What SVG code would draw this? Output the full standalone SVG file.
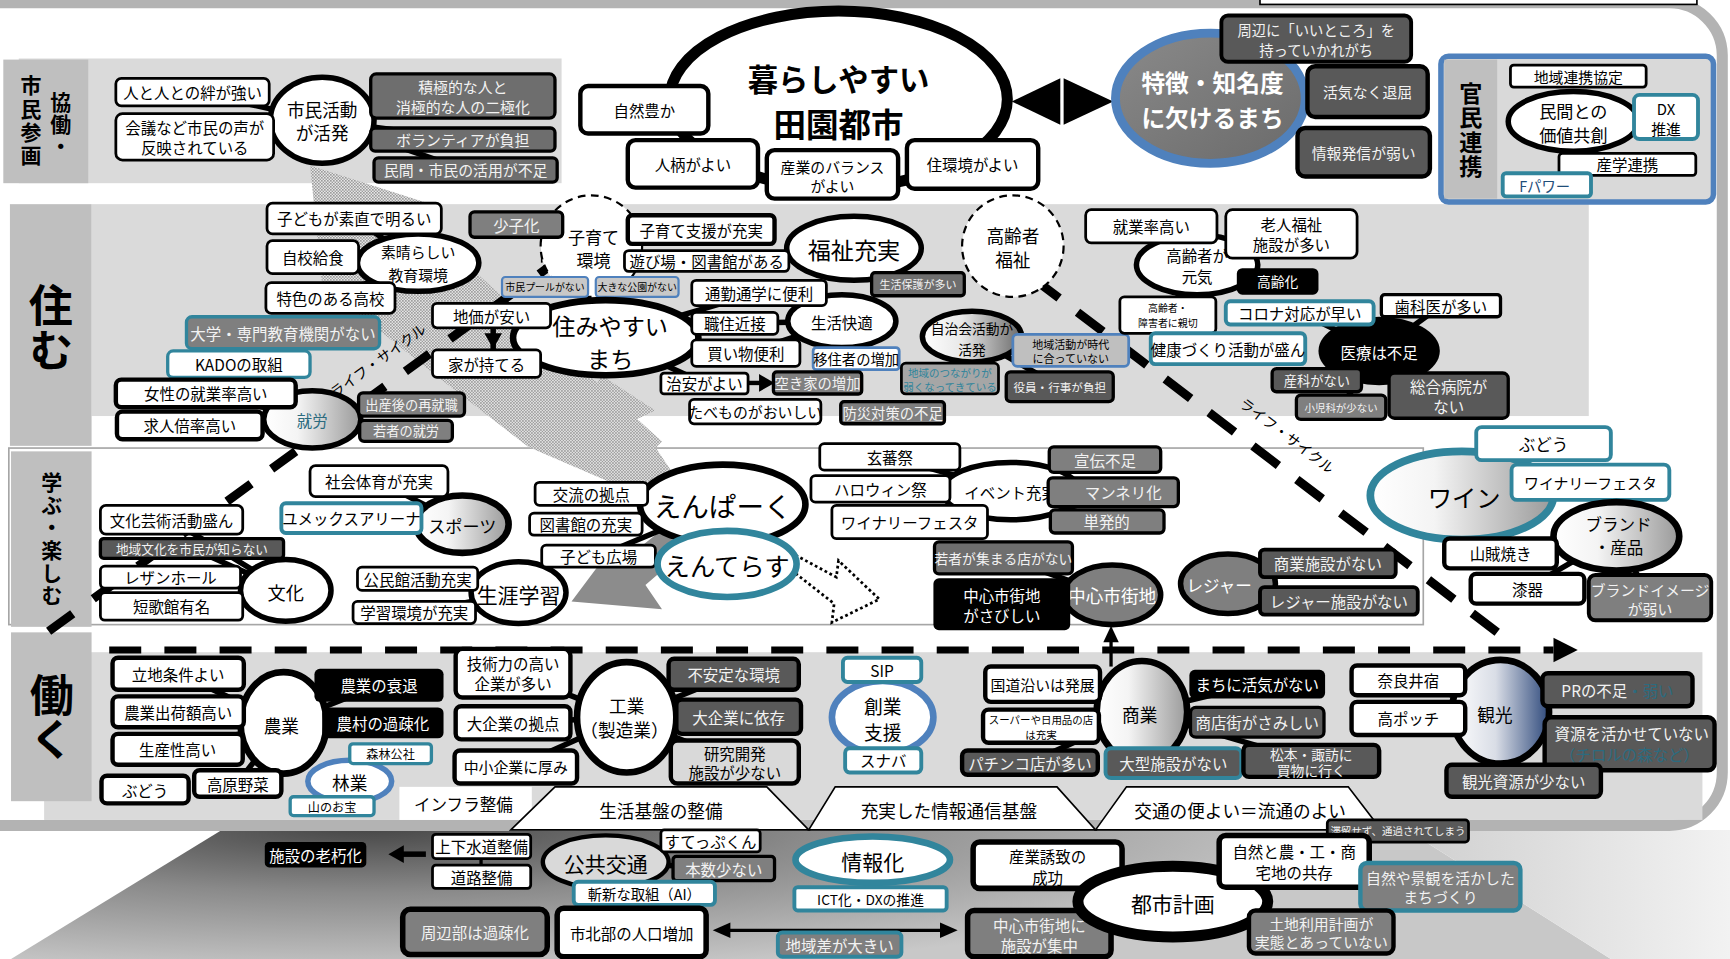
<svg xmlns="http://www.w3.org/2000/svg" width="1730" height="959" viewBox="0 0 1730 959">
<defs>
<style>
text{font-family:"Noto Sans CJK JP","Noto Sans",sans-serif;text-anchor:middle;dominant-baseline:central;fill:#000}
.v{writing-mode:vertical-rl;font-weight:bold}
.w{fill:#fff;stroke:#000;stroke-width:2.5}
.w4{fill:#fff;stroke:#000;stroke-width:4}
.g5{fill:#595959;stroke:#000;stroke-width:3}
.g6{fill:#6e6e6e;stroke:#000;stroke-width:3}
.g7{fill:#7f7f7f;stroke:#000;stroke-width:3}
.bk{fill:#000}
.tl{fill:#fff;stroke:#31859c;stroke-width:3.5}
.tg{fill:#7f7f7f;stroke:#31859c;stroke-width:3.5}
.e{fill:#fff;stroke:#000;stroke-width:5}
.wt{fill:#f2f2f2}
.b{font-weight:bold}
.cn{stroke:#000;stroke-width:5;fill:none}
.lc{stroke:#000;stroke-width:8;fill:none}
</style>
<linearGradient id="gw" x1="0" y1="0" x2="1" y2="0"><stop offset="0" stop-color="#fff"/><stop offset="0.35" stop-color="#f4f4f4"/><stop offset="1" stop-color="#9a9a9a"/></linearGradient>
<linearGradient id="gd" x1="0" y1="0" x2="1" y2="0"><stop offset="0" stop-color="#fff"/><stop offset="0.4" stop-color="#e8e8e8"/><stop offset="1" stop-color="#6a6a6a"/></linearGradient>
<linearGradient id="gn" x1="0" y1="0" x2="1" y2="0"><stop offset="0" stop-color="#fff"/><stop offset="0.45" stop-color="#d9dde6"/><stop offset="1" stop-color="#2f4a7c"/></linearGradient>
<linearGradient id="gt" x1="0" y1="0" x2="1" y2="1"><stop offset="0" stop-color="#8a8a8a"/><stop offset="1" stop-color="#6a6a6a"/></linearGradient>
<radialGradient id="gb" gradientUnits="userSpaceOnUse" cx="330" cy="748" r="900" gradientTransform="translate(330 748) scale(1 0.15) translate(-330 -748)"><stop offset="0" stop-color="#444"/><stop offset="0.45" stop-color="#8a8a8a"/><stop offset="1" stop-color="#c8c8c8"/></radialGradient>
<linearGradient id="gr" x1="0" y1="0" x2="1" y2="0"><stop offset="0" stop-color="#cfcfcf"/><stop offset="1" stop-color="#f2f2f2"/></linearGradient>
<pattern id="hatch" width="2.72" height="2.72" patternUnits="userSpaceOnUse"><rect width="2.72" height="2.72" fill="#e6e6e6"/><rect width="1.36" height="1.36" fill="#9c9c9c"/><rect x="1.36" y="1.36" width="1.36" height="1.36" fill="#9c9c9c"/></pattern>
</defs>
<rect width="1730" height="959" fill="#fff"/>
<g transform="scale(1.10332 1.10357)" font-size="14">
<!-- background -->
<g id="background">
<polygon points="201,752 1275,752 1460,869 10,869" fill="url(#gb)"/>
<polygon points="1275,752 1568,752 1568,869 1460,869" fill="url(#gr)"/>
<path d="M -10,2.5 H 1512 A 48 48 0 0 1 1561,50 V 700 A 48 48 0 0 1 1513,748 H -10" fill="none" stroke="#b3b3b3" stroke-width="10"/>
<rect x="1142" y="-6" width="396" height="10" fill="#fff" stroke="#000" stroke-width="1.5"/>
<rect x="17" y="53" width="492" height="113" fill="#dadada"/>
<rect x="3" y="54" width="77" height="112" fill="#bfbfbf"/>
<rect x="83" y="185" width="1357" height="192" fill="#dadada"/>
<rect x="9" y="185" width="74" height="219" fill="#bfbfbf"/>
<rect x="8" y="406" width="1282" height="160" fill="#fff" stroke="#a6a6a6" stroke-width="1.5"/>
<rect x="10" y="409" width="73" height="159" fill="#bfbfbf"/>
<rect x="40" y="591" width="1503" height="152" fill="#dadada"/>
<rect x="10" y="573" width="73" height="153" fill="#bfbfbf"/>
<text x="28" y="110" class="v" font-size="19" letter-spacing="2">市民参画</text>
<text x="55" y="113" class="v" font-size="19" letter-spacing="1">協働・</text>
<text x="46" y="297" class="v" font-size="40">住む</text>
<text x="47" y="489" class="v" font-size="19" letter-spacing="1.5">学ぶ・楽しむ</text>
<text x="47" y="650" class="v" font-size="40">働く</text>
<!-- banner -->
<rect x="362" y="713" width="120" height="30" fill="#fff"/>
<polygon points="463,752 503,713 695,713 733,752" fill="#fff" stroke="#000" stroke-width="1.5"/>
<polygon points="733,752 757,713 958,713 993,752" fill="#fff" stroke="#000" stroke-width="1.5"/>
<polygon points="993,752 1021,713 1222,713 1252,752" fill="#fff" stroke="#000" stroke-width="1.5"/>
<text x="420" y="729" font-size="15">インフラ整備</text>
<text x="599" y="734" font-size="16">生活基盤の整備</text>
<text x="860" y="734" font-size="16">充実した情報通信基盤</text>
<text x="1124" y="734" font-size="16">交通の便よい＝流通のよい</text>
<!-- hatched arrows -->
<polygon points="281,150 400,188 385,205 600,400 560,440 479,405 396,341 292,258" fill="url(#hatch)"/>
<polygon points="545,340 594,372 577,380 612,432 560,442 520,405 528,372" fill="url(#hatch)"/>
<polygon points="518,545 548,505 560,512 600,480 620,500 585,530 600,552" fill="#8c8c8c"/>
<polygon points="721,503 758,523 760,508 797,543 754,564 756,547 719,518" fill="#fff" stroke="#000" stroke-width="2.5" stroke-dasharray="2.5 2.5"/>
</g>
<!-- connectors -->
<g id="connectors">
<path class="lc" d="M 500 240 L 40 575" style="stroke-dasharray:27 23;stroke-dashoffset:13"/>
<path class="lc" d="M 944 258 L 1357 573" style="stroke-dasharray:29 21;stroke-dashoffset:9"/>
<path d="M491,215 V238" stroke="#000" stroke-width="1.5"/>
<path d="M 99 589 H 1408" stroke="#000" stroke-width="6.5" stroke-dasharray="29 21" fill="none"/>
<polygon points="1408,578 1430,589 1408,600" fill="#000"/>
<text x="342" y="326" font-size="13" transform="rotate(-36 342 326)">ライフ・サイクル</text>
<text x="1167" y="394" font-size="13" transform="rotate(37 1167 394)">ライフ・サイクル</text>
<polygon points="917,92 961,71 961,113" fill="#000"/>
<polygon points="964,71 964,113 1009,92" fill="#000"/>
<path class="cn" d="M292,109 L174,83 M292,109 L176,124 M292,109 L419,87 M292,109 L419,126 M292,109 L422,154"/>
<path class="cn" d="M760,90 L584,99 M760,90 L628,148 M760,90 L754,158 M760,90 L881,149 M687,152 H696 M813,152 H823"/>
<path class="cn" d="M1097,89 L1193,35 M1097,89 L1239,83 M1097,89 L1236,138"/>
<path class="cn" d="M1426,110 L1430,69 M1426,110 L1510,106 M1426,110 L1475,149 M1426,110 L1400,168"/>
<path class="cn" d="M379,238 L321,198 M379,238 L283,233 M379,238 L299,270"/>
<path class="cn" d="M283,380 L186,356 M283,380 L172,385 M283,380 L373,366 M283,380 L368,390"/>
<path class="cn" d="M536,223 L468,203 M536,223 L635,208 M536,223 L640,236 M536,223 L494,260 M536,223 L577,260" style="stroke-width:3"/>
<path class="cn" d="M774,225 L640,236 M774,225 L832,257"/>
<path class="cn" d="M549,306 L445,286 M549,306 L441,329 M549,306 L666,293 M549,306 L676,320 M549,306 L688,265 M549,306 L638,347 M447,297 V 318"/>
<path class="cn" d="M763,291 L688,265 M763,291 L666,293 M763,291 L676,320 M763,291 L776,325"/>
<path class="cn" d="M881,305 L970,317 M881,305 L861,343 M881,305 L960,350"/>
<path class="cn" d="M1085,240 L1043,205 M1085,240 L1170,212 M1085,240 L1158,255 M1085,240 L1058,285"/>
<path class="cn" d="M1250,318 L1306,277 M1250,318 L1193,344 M1250,318 L1215,369 M1250,318 L1313,358 M1250,318 L1178,283"/>
<path class="cn" d="M419,475 L343,436 M419,475 L318,469"/>
<path class="cn" d="M259,535 L155,471 M259,535 L174,497 M259,535 L154,523 M259,535 L155,549"/>
<path class="cn" d="M470,537 L378,524 M470,537 L375,555"/>
<path class="cn" d="M655,457 L536,447 M655,457 L531,475 M655,457 L542,504"/>
<path class="cn" d="M916,445 L806,414 M916,445 L798,443 M916,445 L824,473 M916,445 L1001,416 M916,445 L1018,446 M916,445 L1003,472"/>
<path class="cn" d="M1008,540 L908,547 M1008,540 L909,505"/>
<path class="cn" d="M1113,529 L1203,510 M1113,529 L1213,544"/>
<path class="cn" d="M1325,449 L1399,402 M1325,449 L1441,437"/>
<path class="cn" d="M1465,486 L1360,501 M1465,486 L1384,533 M1465,486 L1495,541"/>
<path class="cn" d="M257,655 L161,610 M257,655 L161,645 M257,655 L161,679 M257,655 L343,621 M257,655 L347,655 M257,655 L215,710"/>
<path class="cn" d="M317,708 L354,683 M317,708 L301,730"/>
<path class="cn" d="M568,650 L465,610 M568,650 L465,655 M568,650 L467,695 M568,650 L665,611 M568,650 L669,649 M568,650 L666,690"/>
<path class="cn" d="M800,650 L800,607 M800,650 L800,689"/>
<path class="cn" d="M1035,645 L945,620 M1035,645 L943,658 M1035,645 L1139,620 M1035,645 L1139,654 M1035,645 L933,691 M1035,645 L1063,691 M1035,645 L1188,690"/>
<path class="cn" d="M1360,645 L1276,616 M1360,645 L1276,651 M1360,645 L1466,625 M1360,645 L1479,674 M1360,645 L1381,707"/>
<path d="M1007,604 V 580" stroke="#000" stroke-width="3" fill="none"/>
<polygon points="1000,582 1007,567 1014,582" fill="#000"/>
<path d="M690,347 H678" stroke="#000" stroke-width="4"/>
<polygon points="688,339 702,347 688,355" fill="#000"/>
<polygon points="439,302 455,302 447,316" fill="#000"/>
<path class="cn" d="M549,781 L644,762 M549,781 L656,787 M549,781 L584,809"/>
<path class="cn" d="M791,779 L789,814"/>
<path class="cn" d="M1063,817 L949,784 M1063,817 L942,846 M1063,817 L1173,780 M1063,817 L1197,845"/>
<path d="M436,767 V 794" stroke="#000" stroke-width="3"/>
<path d="M386,774 H362" stroke="#000" stroke-width="5"/>
<polygon points="352,774 366,766 366,782" fill="#000"/>
<path d="M660,843 H855" stroke="#000" stroke-width="3"/>
<polygon points="646,843 662,836 662,850" fill="#000"/>
<polygon points="868,843 852,836 852,850" fill="#000"/>
</g>
<!-- 協働 row -->
<g id="n_shimin"><ellipse cx="292" cy="109" rx="47" ry="39" class="e"/><text x="292" y="99" font-size="16">市民活動<tspan x="292" y="120">が活発</tspan></text></g>
<g id="n_kizuna"><rect x="105" y="71" width="139" height="25" rx="5" class="w"/><text x="174.5" y="83.5">人と人との絆が強い</text></g>
<g id="n_kaigi"><rect x="105" y="103" width="143" height="42" rx="6" class="w"/><text x="176.5" y="115">会議など市民の声が<tspan x="176.5" y="133">反映されている</tspan></text></g>
<g id="n_sekkyoku"><rect x="336" y="67" width="167" height="40" rx="5" class="g6"/><text x="419.5" y="78.5" class="wt" font-size="13.5">積極的な人と<tspan x="419.5" y="96">消極的な人の二極化</tspan></text></g>
<g id="n_volunteer"><rect x="336" y="116" width="167" height="21" rx="4" class="g6"/><text x="419.5" y="126.5" class="wt" font-size="13.5">ボランティアが負担</text></g>
<g id="n_minkan"><rect x="339" y="143" width="166" height="22" rx="4" class="g6"/><text x="422" y="154" class="wt" font-size="13.5">民間・市民の活用が不足</text></g>
<!-- top -->
<g id="n_kurashi"><ellipse cx="760" cy="90" rx="153" ry="80" fill="#fff" stroke="#000" stroke-width="10"/><text x="760" y="70.5" font-size="27.5" class="b">暮らしやすい<tspan x="760" y="111" font-size="29.5">田園都市</tspan></text></g>
<g id="n_shizen"><rect x="526" y="78" width="116" height="43" rx="7" class="w4"/><text x="584" y="99.5">自然豊か</text></g>
<g id="n_hitogara"><rect x="569" y="127" width="118" height="43" rx="7" class="w4"/><text x="628" y="148.5">人柄がよい</text></g>
<g id="n_sangyo"><rect x="695" y="136" width="119" height="44" rx="7" class="w4"/><text x="754.5" y="151" font-size="13.5">産業のバランス<tspan x="754.5" y="168">がよい</tspan></text></g>
<g id="n_jukankyo"><rect x="822" y="127" width="119" height="44" rx="7" class="w4"/><text x="881.5" y="149">住環境がよい</text></g>
<g id="n_tokucho"><ellipse cx="1097" cy="89" rx="86" ry="59" fill="url(#gt)" stroke="#4f81bd" stroke-width="8"/><text x="1099" y="73.5" font-size="21.5" class="b" style="fill:#fff">特徴・知名度<tspan x="1099" y="105">に欠けるまち</tspan></text></g>
<g id="n_shuhen"><rect x="1107" y="14" width="172" height="42" rx="6" class="g5" style="stroke-width:3.5"/><text x="1193" y="27" class="wt" font-size="13">周辺に「いいところ」を<tspan x="1193" y="44">持っていかれがち</tspan></text></g>
<g id="n_kakki"><rect x="1185" y="60" width="109" height="46" rx="7" class="g5" style="stroke-width:4"/><text x="1239.5" y="83" class="wt" font-size="13.5">活気なく退屈</text></g>
<g id="n_johohasshin"><rect x="1176" y="116" width="120" height="44" rx="7" class="g5" style="stroke-width:4"/><text x="1236" y="138" class="wt" font-size="13.5">情報発信が弱い</text></g>
<!-- 官民連携 -->
<g id="n_kanmin"><rect x="1306" y="51" width="247" height="132" rx="7" fill="#d9d9d9" stroke="#4f81bd" stroke-width="5"/><rect x="1309" y="54" width="48" height="126" fill="#bfbfbf"/>
<text x="1333" y="118" class="v" font-size="21" letter-spacing="1">官民連携</text></g>
<g id="n_chiikirenkei"><rect x="1369" y="59" width="123" height="20" rx="3" class="w"/><text x="1430.5" y="69" font-size="13.5">地域連携協定</text></g>
<g id="n_minkanto"><ellipse cx="1426" cy="110" rx="59" ry="27" class="e"/><text x="1426" y="100" font-size="15.5">民間との<tspan x="1426" y="121">価値共創</tspan></text></g>
<g id="n_dx"><rect x="1481" y="86" width="58" height="40" rx="5" class="tl"/><text x="1510" y="98" font-size="13.5">DX<tspan x="1510" y="116">推進</tspan></text></g>
<g id="n_sangaku"><rect x="1413" y="139" width="124" height="20" rx="3" class="w"/><text x="1475" y="149">産学連携</text></g>
<g id="n_fpower"><rect x="1362" y="157" width="80" height="21" rx="3" class="tl"/><text x="1400" y="168" font-size="13" style="fill:#1f4e79">Fパワー</text></g>
<!-- 住む row -->
<g id="n_subarashii"><ellipse cx="379" cy="238" rx="55" ry="26" class="e"/><text x="379" y="228" font-size="13.5">素晴らしい<tspan x="379" y="248">教育環境</tspan></text></g>
<g id="n_kodomo"><rect x="242" y="184" width="158" height="28" rx="5" class="w"/><text x="321" y="198">子どもが素直で明るい</text></g>
<g id="n_jiko"><rect x="242" y="218" width="83" height="30" rx="5" class="w"/><text x="283.5" y="233">自校給食</text></g>
<g id="n_tokushoku"><rect x="241" y="256" width="117" height="28" rx="5" class="w"/><text x="299.5" y="270">特色のある高校</text></g>
<g id="n_daigaku"><rect x="169" y="287" width="175" height="29" rx="5" class="tg" style="stroke-width:3"/><text x="256.5" y="301.5" class="wt">大学・専門教育機関がない</text></g>
<g id="n_kado"><rect x="152" y="318" width="129" height="24" rx="5" class="tl" style="stroke-width:3"/><text x="216.5" y="330">KADOの取組</text></g>
<g id="n_shuro"><ellipse cx="283" cy="380" rx="44" ry="26" fill="url(#gw)" stroke="#000" stroke-width="5"/><text x="283" y="381" style="fill:#2c6b7f">就労</text></g>
<g id="n_josei"><rect x="105" y="344" width="163" height="25" rx="5" class="w4"/><text x="186.5" y="356.5">女性の就業率高い</text></g>
<g id="n_kyujin"><rect x="106" y="373" width="132" height="25" rx="5" class="w4"/><text x="172" y="385.5">求人倍率高い</text></g>
<g id="n_shussan"><rect x="325" y="356" width="96" height="21" rx="4" class="g7"/><text x="373" y="366.5" class="wt" font-size="12">出産後の再就職</text></g>
<g id="n_wakamono"><rect x="326" y="381" width="84" height="19" rx="4" class="g7"/><text x="368" y="390.5" class="wt" font-size="12">若者の就労</text></g>
<g id="n_kosodate"><circle cx="536" cy="223" r="46" fill="#fff" stroke="#000" stroke-width="2" stroke-dasharray="7 5"/><text x="538" y="214" font-size="15.5">子育て<tspan x="538" y="235">環境</tspan></text></g>
<g id="n_shoshika"><rect x="426" y="192" width="84" height="23" rx="4" class="g7"/><text x="468" y="203.5" class="wt">少子化</text></g>
<g id="n_pool"><rect x="455" y="251" width="78" height="18" rx="3" fill="#c8c8c8" stroke="#4f81bd" stroke-width="2"/><text x="494" y="260" font-size="9">市民プールがない</text></g>
<g id="n_koen"><rect x="540" y="251" width="75" height="18" rx="3" fill="#c8c8c8" stroke="#4f81bd" stroke-width="2"/><text x="577.5" y="260" font-size="9">大きな公園がない</text></g>
<g id="n_fukushi"><ellipse cx="774" cy="225" rx="61" ry="29" class="e"/><text x="774" y="226" font-size="21">福祉充実</text></g>
<g id="n_kosodateshien"><rect x="569" y="195" width="133" height="26" rx="4" class="w4"/><text x="635.5" y="208">子育て支援が充実</text></g>
<g id="n_asobiba"><rect x="566" y="227" width="149" height="19" rx="4" class="w"/><text x="640.5" y="236.5">遊び場・図書館がある</text></g>
<g id="n_seikatsuhogo"><rect x="790" y="247" width="84" height="21" rx="3" class="g6"/><text x="832" y="257.5" class="wt" font-size="10">生活保護が多い</text></g>
<g id="n_sumiyasui"><ellipse cx="549" cy="306" rx="84" ry="34" fill="#fff" stroke="#000" stroke-width="6"/><text x="553" y="294.5" font-size="21">住みやすい<tspan x="553" y="324">まち</tspan></text></g>
<g id="n_chika"><rect x="392" y="275" width="107" height="22" rx="4" class="w"/><text x="445.5" y="286">地価が安い</text></g>
<g id="n_ie"><rect x="392" y="317" width="98" height="25" rx="4" class="w"/><text x="441" y="329.5">家が持てる</text></g>
<g id="n_seikatsukaiteki"><ellipse cx="763" cy="291" rx="49" ry="24" class="e"/><text x="763" y="292">生活快適</text></g>
<g id="n_tsukin"><rect x="627" y="254" width="122" height="23" rx="4" class="w"/><text x="688" y="265.5">通勤通学に便利</text></g>
<g id="n_shokuju"><rect x="627" y="283" width="78" height="20" rx="4" class="w"/><text x="666" y="293">職住近接</text></g>
<g id="n_kaimono"><rect x="627" y="308" width="98" height="24" rx="4" class="w"/><text x="676" y="320">買い物便利</text></g>
<g id="n_iju"><rect x="737" y="315" width="78" height="20" rx="3" fill="#fff" stroke="#4f81bd" stroke-width="2.5"/><text x="776" y="325" font-size="13">移住者の増加</text></g>
<g id="n_chian"><rect x="599" y="338" width="79" height="19" rx="3" class="w"/><text x="638.5" y="347.5">治安がよい</text></g>
<g id="n_akiya"><rect x="701" y="337" width="80" height="20" rx="3" class="g7"/><text x="741" y="347" class="wt" font-size="13">空き家の増加</text></g>
<g id="n_tabemono"><rect x="625" y="362" width="119" height="22" rx="4" class="w"/><text x="684.5" y="373" font-size="13.5">たべものがおいしい</text></g>
<g id="n_bosai"><rect x="762" y="364" width="94" height="20" rx="3" class="g7"/><text x="809" y="374" class="wt" font-size="13">防災対策の不足</text></g>
<g id="n_jichikai"><ellipse cx="881" cy="305" rx="45" ry="23" fill="url(#gd)" stroke="#000" stroke-width="5"/><text x="881" y="297" font-size="12.5">自治会活動が<tspan x="881" y="316">活発</tspan></text></g>
<g id="n_chiikikatsudo"><rect x="918" y="303" width="105" height="29" rx="4" fill="#bfbfbf" stroke="#4f81bd" stroke-width="2.5"/><text x="970.5" y="312" font-size="10">地域活動が時代<tspan x="970.5" y="324">に合っていない</tspan></text></g>
<g id="n_tsunagari"><rect x="817" y="329" width="88" height="28" rx="4" fill="#a6a6a6" stroke="#000" stroke-width="2.5"/><text x="861" y="337.5" font-size="9.5" style="fill:#31859c">地域のつながりが<tspan x="861" y="349.5">弱くなってきている</tspan></text></g>
<g id="n_yakuin"><rect x="912" y="337" width="97" height="27" rx="4" class="g5"/><text x="960.5" y="350.5" class="wt" font-size="10.5">役員・行事が負担</text></g>
<g id="n_koreishafukushi"><circle cx="918" cy="223" r="46" fill="#fff" stroke="#000" stroke-width="2" stroke-dasharray="7 5"/><text x="918" y="213" font-size="16">高齢者<tspan x="918" y="235">福祉</tspan></text></g>
<g id="n_koreishagenki"><ellipse cx="1085" cy="240" rx="55" ry="27" class="e"/><text x="1085" y="231">高齢者が<tspan x="1085" y="250">元気</tspan></text></g>
<g id="n_shugyo"><rect x="984" y="190" width="119" height="30" rx="5" class="w"/><text x="1043.5" y="205">就業率高い</text></g>
<g id="n_rojin"><rect x="1111" y="190" width="119" height="44" rx="6" class="w"/><text x="1170.5" y="203">老人福祉<tspan x="1170.5" y="221">施設が多い</tspan></text></g>
<g id="n_koreika"><rect x="1121" y="243" width="74" height="24" rx="5" class="bk"/><text x="1158" y="255" font-size="12.5" style="fill:#fff">高齢化</text></g>
<g id="n_shinsetsu"><rect x="1015" y="269" width="87" height="33" rx="4" class="w"/><text x="1058.5" y="279" font-size="9">高齢者・<tspan x="1058.5" y="292">障害者に親切</tspan></text></g>
<g id="n_iryo"><ellipse cx="1250" cy="318" rx="55" ry="31" class="bk"/><text x="1250" y="319" style="fill:#fff">医療は不足</text></g>
<g id="n_corona"><rect x="1111" y="273" width="134" height="21" rx="4" class="tl"/><text x="1178" y="283.5">コロナ対応が早い</text></g>
<g id="n_shikai"><rect x="1252" y="267" width="108" height="20" rx="3" class="w" style="stroke-width:3"/><text x="1306" y="277">歯科医が多い</text></g>
<g id="n_kenko"><rect x="1043" y="302" width="140" height="28" rx="4" class="tl"/><text x="1113" y="316">健康づくり活動が盛ん</text></g>
<g id="n_sanka"><rect x="1153" y="334" width="81" height="21" rx="4" class="g5"/><text x="1193.5" y="344.5" class="wt" font-size="12">産科がない</text></g>
<g id="n_shonika"><rect x="1175" y="358" width="81" height="22" rx="4" class="g7"/><text x="1215.5" y="369" class="wt" font-size="9.5">小児科が少ない</text></g>
<g id="n_sogo"><rect x="1259" y="338" width="108" height="41" rx="5" class="g5"/><text x="1313" y="350" class="wt">総合病院が<tspan x="1313" y="368">ない</tspan></text></g>
<!-- 学ぶ row -->
<g id="n_sports"><ellipse cx="419" cy="475" rx="42" ry="26" fill="url(#gw)" stroke="#000" stroke-width="6"/><text x="419" y="476" font-size="15.5">スポーツ</text></g>
<g id="n_shakaitaiiku"><rect x="281" y="422" width="125" height="28" rx="5" class="w"/><text x="343.5" y="436">社会体育が充実</text></g>
<g id="n_yumex"><rect x="255" y="456" width="127" height="27" rx="4" class="tl"/><text x="318.5" y="469.5">ユメックスアリーナ</text></g>
<g id="n_bunka"><ellipse cx="259" cy="535" rx="41" ry="28" class="e"/><text x="259" y="536" font-size="16.5">文化</text></g>
<g id="n_bunkageijutsu"><rect x="91" y="458" width="129" height="26" rx="5" class="w"/><text x="155.5" y="471">文化芸術活動盛ん</text></g>
<g id="n_chiikibunka"><rect x="91" y="488" width="166" height="18" rx="3" class="g5"/><text x="174" y="497" class="wt" font-size="11.5">地域文化を市民が知らない</text></g>
<g id="n_rezan"><rect x="91" y="513" width="127" height="20" rx="4" class="w"/><text x="154.5" y="523">レザンホール</text></g>
<g id="n_tanka"><rect x="91" y="537" width="129" height="25" rx="4" class="w"/><text x="155.5" y="549.5">短歌館有名</text></g>
<g id="n_shogai"><ellipse cx="470" cy="537" rx="43" ry="28" class="e"/><text x="470" y="538" font-size="19">生涯学習</text></g>
<g id="n_kominkan"><rect x="324" y="514" width="109" height="21" rx="4" class="w"/><text x="378.5" y="524.5">公民館活動充実</text></g>
<g id="n_gakushu"><rect x="320" y="545" width="111" height="20" rx="4" class="w"/><text x="375.5" y="555">学習環境が充実</text></g>
<g id="n_enpaku"><ellipse cx="655" cy="457" rx="75" ry="36" fill="#fff" stroke="#000" stroke-width="6"/><text x="655" y="458" font-size="25">えんぱーく</text></g>
<g id="n_koryu"><rect x="485" y="437" width="102" height="21" rx="4" class="w"/><text x="536" y="447.5">交流の拠点</text></g>
<g id="n_toshokan"><rect x="480" y="465" width="102" height="20" rx="4" class="w"/><text x="531" y="475">図書館の充実</text></g>
<g id="n_kodomohiroba"><rect x="491" y="494" width="103" height="20" rx="4" class="w"/><text x="542.5" y="504">子ども広場</text></g>
<g id="n_enterasu"><ellipse cx="659" cy="511" rx="63" ry="30" fill="#fff" stroke="#31859c" stroke-width="6"/><text x="659" y="512" font-size="23">えんてらす</text></g>
<g id="n_event"><ellipse cx="916" cy="445" rx="62" ry="26" class="e"/><text x="916" y="446">イベント充実</text></g>
<g id="n_genba"><rect x="743" y="402" width="127" height="24" rx="4" class="w"/><text x="806.5" y="414">玄蕃祭</text></g>
<g id="n_halloween"><rect x="735" y="431" width="126" height="24" rx="4" class="w"/><text x="798" y="443">ハロウィン祭</text></g>
<g id="n_winery1"><rect x="754" y="458" width="141" height="30" rx="4" class="w"/><text x="824.5" y="473">ワイナリーフェスタ</text></g>
<g id="n_senden"><rect x="951" y="405" width="101" height="23" rx="4" class="g7"/><text x="1001.5" y="416.5" class="wt">宣伝不足</text></g>
<g id="n_manneri"><rect x="950" y="433" width="118" height="26" rx="4" class="g7"/><text x="1018" y="446" class="wt">マンネリ化</text></g>
<g id="n_tanpatsu"><rect x="952" y="462" width="103" height="21" rx="4" class="g7"/><text x="1003" y="472.5" class="wt">単発的</text></g>
<g id="n_wakamonomise"><rect x="847" y="491" width="125" height="29" rx="4" class="g6"/><text x="909.5" y="505.5" class="wt" font-size="12.5">若者が集まる店がない</text></g>
<g id="n_chushin"><ellipse cx="1008" cy="539" rx="44" ry="27" class="g7" style="stroke-width:5"/><text x="1008" y="540" font-size="16" style="fill:#fff">中心市街地</text></g>
<g id="n_sabishii"><rect x="846" y="524" width="124" height="47" rx="5" class="bk"/><text x="908" y="539" style="fill:#fff">中心市街地<tspan x="908" y="557">がさびしい</tspan></text></g>
<g id="n_leisure"><ellipse cx="1113" cy="529" rx="43" ry="27" class="g7" style="stroke-width:5"/><text x="1105" y="530" font-size="15" style="fill:#fff">レジャー</text></g>
<g id="n_shogyoshisetsu"><rect x="1142" y="498" width="123" height="25" rx="4" class="g5" style="stroke-width:3.5"/><text x="1203.5" y="510.5" class="wt">商業施設がない</text></g>
<g id="n_leisureshisetsu"><rect x="1142" y="532" width="143" height="25" rx="4" class="g5" style="stroke-width:3.5"/><text x="1213.5" y="544.5" class="wt">レジャー施設がない</text></g>
<!-- right -->
<g id="n_wine"><ellipse cx="1325" cy="449" rx="83" ry="40" fill="url(#gw)" stroke="#31859c" stroke-width="7"/><text x="1327" y="450" font-size="22">ワイン</text></g>
<g id="n_budo1"><rect x="1338" y="387" width="122" height="30" rx="5" class="tl"/><text x="1399" y="402" font-size="15">ぶどう</text></g>
<g id="n_winery2"><rect x="1370" y="421" width="143" height="32" rx="5" class="tl"/><text x="1441.5" y="437" font-size="13.5">ワイナリーフェスタ</text></g>
<g id="n_brand"><ellipse cx="1465" cy="486" rx="57" ry="31" fill="url(#gw)" stroke="#000" stroke-width="6"/><text x="1467" y="475" font-size="15">ブランド<tspan x="1467" y="496">・産品</tspan></text></g>
<g id="n_sanzoku"><rect x="1309" y="488" width="102" height="27" rx="5" class="w4"/><text x="1360" y="501.5">山賊焼き</text></g>
<g id="n_shikki"><rect x="1333" y="520" width="103" height="27" rx="5" class="w4"/><text x="1384.5" y="533.5">漆器</text></g>
<g id="n_brandimage"><rect x="1440" y="521" width="111" height="41" rx="6" class="g7" style="stroke-width:3.5"/><text x="1495.5" y="534" class="wt" font-size="13.5">ブランドイメージ<tspan x="1495.5" y="551">が弱い</tspan></text></g>
<!-- 働く row -->
<g id="n_nogyo"><ellipse cx="257" cy="655" rx="39" ry="46" fill="#fff" stroke="#000" stroke-width="6"/><text x="255" y="657" font-size="16">農業</text></g>
<g id="n_ritchi"><rect x="102" y="596" width="119" height="29" rx="5" class="w4"/><text x="161.5" y="610.5">立地条件よい</text></g>
<g id="n_shukka"><rect x="102" y="631" width="119" height="28" rx="5" class="w4"/><text x="161.5" y="645">農業出荷額高い</text></g>
<g id="n_seisansei"><rect x="102" y="665" width="118" height="28" rx="5" class="w4"/><text x="161" y="679">生産性高い</text></g>
<g id="n_suitai"><rect x="285" y="606" width="117" height="30" rx="5" class="bk"/><text x="343.5" y="621" style="fill:#fff">農業の衰退</text></g>
<g id="n_kaso"><rect x="292" y="641" width="110" height="28" rx="5" class="bk"/><text x="347" y="655" style="fill:#fff">農村の過疎化</text></g>
<g id="n_ringyo"><ellipse cx="317" cy="708" rx="38" ry="19" fill="#fff" stroke="#4f81bd" stroke-width="5"/><text x="317" y="709" font-size="16">林業</text></g>
<g id="n_shinrin"><rect x="317" y="674" width="74" height="18" rx="3" class="tl" style="stroke-width:3"/><text x="354" y="683" font-size="11">森林公社</text></g>
<g id="n_yamanootakara"><rect x="263" y="722" width="76" height="17" rx="3" class="tl" style="stroke-width:3"/><text x="301" y="730.5" font-size="11">山のお宝</text></g>
<g id="n_budo2"><rect x="92" y="703" width="79" height="25" rx="5" class="w4"/><text x="131.5" y="715.5">ぶどう</text></g>
<g id="n_kogen"><rect x="176" y="698" width="79" height="24" rx="5" class="w4"/><text x="215.5" y="710">高原野菜</text></g>
<g id="n_kogyo"><ellipse cx="568" cy="650" rx="45" ry="50" fill="#fff" stroke="#000" stroke-width="6"/><text x="568" y="639" font-size="16">工業<tspan x="566" y="661">（製造業）</tspan></text></g>
<g id="n_gijutsu"><rect x="413" y="588" width="104" height="44" rx="6" class="w4"/><text x="465" y="601">技術力の高い<tspan x="465" y="619">企業が多い</tspan></text></g>
<g id="n_daikigyo"><rect x="413" y="640" width="104" height="30" rx="5" class="w4"/><text x="465" y="655">大企業の拠点</text></g>
<g id="n_chusho"><rect x="412" y="680" width="111" height="30" rx="5" class="w4"/><text x="467.5" y="695" font-size="13.5">中小企業に厚み</text></g>
<g id="n_fuantei"><rect x="606" y="597" width="118" height="28" rx="5" class="g5" style="stroke-width:4"/><text x="665" y="611" class="wt">不安定な環境</text></g>
<g id="n_izon"><rect x="613" y="634" width="113" height="31" rx="5" class="g5" style="stroke-width:4"/><text x="669.5" y="649.5" class="wt">大企業に依存</text></g>
<g id="n_kenkyu"><rect x="608" y="671" width="116" height="39" rx="6" fill="#d9d9d9" stroke="#000" stroke-width="4"/><text x="666" y="682">研究開発<tspan x="666" y="700">施設が少ない</tspan></text></g>
<g id="n_sogyo"><ellipse cx="800" cy="650" rx="46" ry="33" fill="#fff" stroke="#4f81bd" stroke-width="6"/><text x="800" y="639" font-size="17">創業<tspan x="800" y="662">支援</tspan></text></g>
<g id="n_sip"><rect x="764" y="596" width="71" height="22" rx="4" class="tl"/><text x="799.5" y="607">SIP</text></g>
<g id="n_sunaba"><rect x="766" y="678" width="69" height="22" rx="4" class="tl"/><text x="800.5" y="689">スナバ</text></g>
<g id="n_shogyo"><ellipse cx="1035" cy="645" rx="41" ry="46" fill="url(#gw)" stroke="#000" stroke-width="6"/><text x="1033" y="647" font-size="16">商業</text></g>
<g id="n_kokudo"><rect x="893" y="604" width="104" height="32" rx="5" class="w4"/><text x="945" y="620" font-size="13.5">国道沿いは発展</text></g>
<g id="n_super"><rect x="891" y="643" width="105" height="30" rx="5" class="w4"/><text x="943.5" y="652" font-size="9.5">スーパーや日用品の店<tspan x="943.5" y="665">は充実</tspan></text></g>
<g id="n_kakkinai"><rect x="1078" y="607" width="123" height="26" rx="5" class="bk"/><text x="1139.5" y="620" style="fill:#fff">まちに活気がない</text></g>
<g id="n_shotengai"><rect x="1079" y="641" width="121" height="27" rx="5" class="g5"/><text x="1139.5" y="654.5" class="wt">商店街がさみしい</text></g>
<g id="n_pachinko"><rect x="872" y="680" width="123" height="22" rx="5" class="g5" style="stroke-width:4"/><text x="933.5" y="691" class="wt">パチンコ店が多い</text></g>
<g id="n_ogata"><rect x="1002" y="678" width="123" height="27" rx="5" class="g5" style="stroke:#31859c;stroke-width:3.5"/><text x="1063.5" y="691.5" class="wt">大型施設がない</text></g>
<g id="n_matsumoto"><rect x="1127" y="675" width="123" height="29" rx="5" class="g5" style="stroke-width:4"/><text x="1188.5" y="683" class="wt" font-size="12.5">松本・諏訪に<tspan x="1188.5" y="698">買物に行く</tspan></text></g>
<g id="n_kanko"><ellipse cx="1360" cy="645" rx="44" ry="47" fill="url(#gn)" stroke="#000" stroke-width="6"/><text x="1355" y="647" font-size="16">観光</text></g>
<g id="n_narai"><rect x="1225" y="603" width="103" height="27" rx="5" class="w4"/><text x="1276.5" y="616.5">奈良井宿</text></g>
<g id="n_takabocchi"><rect x="1225" y="636" width="103" height="30" rx="5" class="w4"/><text x="1276.5" y="651">高ポッチ</text></g>
<g id="n_pr"><rect x="1398" y="610" width="136" height="30" rx="5" class="g5" style="stroke-width:4"/><text x="1466" y="625"><tspan style="fill:#f2f2f2">PRの不足</tspan><tspan style="fill:#2c6b7f">・弱い</tspan></text></g>
<g id="n_shigen"><rect x="1400" y="650" width="154" height="48" rx="6" class="g5" style="stroke-width:4"/><text x="1479" y="664" class="wt">資源を活かせていない<tspan x="1477" y="683" style="fill:#2c6b7f">（チロルの森など）</tspan></text></g>
<g id="n_kankoshigen"><rect x="1311" y="693" width="140" height="29" rx="5" class="g5" style="stroke-width:4"/><text x="1381" y="707.5" class="wt">観光資源が少ない</text></g>
<!-- infra -->
<g id="n_rokyuka"><rect x="240" y="763" width="92" height="23" rx="4" class="bk"/><text x="286" y="774.5" style="fill:#fff">施設の老朽化</text></g>
<g id="n_gesuido"><rect x="392" y="756" width="89" height="22" rx="3" class="w"/><text x="436.5" y="767">上下水道整備</text></g>
<g id="n_doro"><rect x="392" y="784" width="89" height="21" rx="3" class="w"/><text x="436.5" y="794.5">道路整備</text></g>
<g id="n_kokyo"><ellipse cx="549" cy="781" rx="57" ry="24" fill="#d9d9d9" stroke="#000" stroke-width="4"/><text x="549" y="782" font-size="19">公共交通</text></g>
<g id="n_suteppu"><rect x="599" y="752" width="90" height="20" rx="3" class="w"/><text x="644" y="762">すてっぷくん</text></g>
<g id="n_honsu"><rect x="610" y="776" width="92" height="22" rx="3" class="g7"/><text x="656" y="787" class="wt">本数少ない</text></g>
<g id="n_zanshin"><rect x="520" y="799" width="128" height="21" rx="4" class="tl"/><text x="584" y="809.5" font-size="13">斬新な取組（AI）</text></g>
<g id="n_kitabu"><rect x="505" y="823" width="135" height="44" rx="6" fill="#fff" stroke="#000" stroke-width="5"/><text x="572.5" y="845">市北部の人口増加</text></g>
<g id="n_shuhenbu"><rect x="365" y="824" width="131" height="41" rx="7" class="g7" style="stroke-width:5"/><text x="430.5" y="844.5" class="wt">周辺部は過疎化</text></g>
<g id="n_chiikisa"><rect x="705" y="845" width="112" height="22" rx="4" class="tg"/><text x="761" y="856" class="wt">地域差が大きい</text></g>
<g id="n_johoka"><ellipse cx="791" cy="779" rx="70" ry="21" fill="#fff" stroke="#31859c" stroke-width="6"/><text x="791" y="780" font-size="19">情報化</text></g>
<g id="n_ict"><rect x="720" y="804" width="138" height="21" rx="3" class="tl"/><text x="789" y="814.5" font-size="12.5">ICT化・DXの推進</text></g>
<g id="n_yuchi"><rect x="882" y="763" width="135" height="42" rx="6" fill="#fff" stroke="#000" stroke-width="5"/><text x="949.5" y="776">産業誘致の<tspan x="949.5" y="795">成功</tspan></text></g>
<g id="n_shuchu"><rect x="877" y="825" width="130" height="42" rx="6" class="g7" style="stroke-width:5"/><text x="942" y="838" class="wt">中心市街地に<tspan x="942" y="856">施設が集中</tspan></text></g>
<g id="n_toshikeikaku"><ellipse cx="1063" cy="817" rx="86" ry="32" fill="#fff" stroke="#000" stroke-width="10"/><text x="1063" y="818" font-size="19">都市計画</text></g>
<g id="n_tairyu"><rect x="1203" y="743" width="128" height="20" rx="3" class="g5" style="stroke-width:2.5"/><text x="1267" y="753" class="wt" font-size="9.5">滞留せず、通過されてしまう</text></g>
<g id="n_kyozon"><rect x="1105" y="757" width="136" height="47" rx="6" fill="#fff" stroke="#000" stroke-width="5"/><text x="1173" y="771">自然と農・工・商<tspan x="1173" y="790">宅地の共存</tspan></text></g>
<g id="n_keikan"><rect x="1233" y="782" width="145" height="43" rx="6" class="tg" style="stroke-width:4"/><text x="1305.5" y="795" class="wt" font-size="13.5">自然や景観を活かした<tspan x="1305.5" y="812">まちづくり</tspan></text></g>
<g id="n_tochiriyo"><rect x="1132" y="825" width="131" height="39" rx="6" class="g7" style="stroke-width:4"/><text x="1197.5" y="837" class="wt" font-size="13.5">土地利用計画が<tspan x="1197.5" y="853">実態とあっていない</tspan></text></g>
</g>
</svg>
